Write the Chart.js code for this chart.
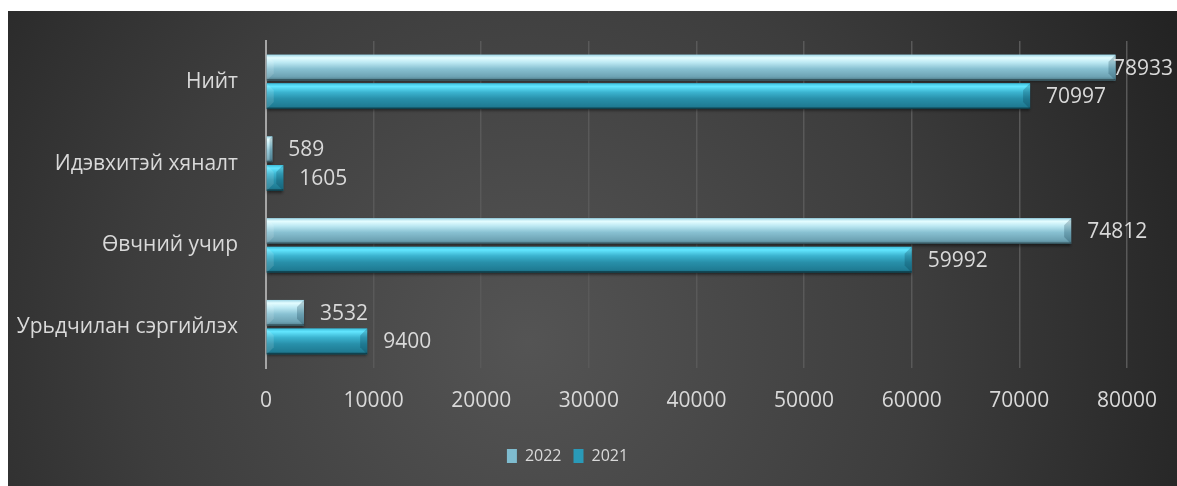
<!DOCTYPE html>
<html>
<head>
<meta charset="utf-8">
<script src="https://cdn.jsdelivr.net/npm/chart.js@4.4.1/dist/chart.umd.min.js"></script>
<style>
  html, body { margin: 0; padding: 0; background: #fff; }
  #wrap { position: absolute; left: 8px; top: 11px; width: 1169px; height: 475px; }
</style>
</head>
<body>
<div id="wrap"><canvas id="chart"></canvas></div>
<script>
// categories, top to bottom
const categories = ['Нийт', 'Идэвхитэй хяналт', 'Өвчний учир', 'Урьдчилан сэргийлэх'];
const values2022 = [78933, 589, 74812, 3532];
const values2021 = [70997, 1605, 59992, 9400];
const xTicks = [0, 10000, 20000, 30000, 40000, 50000, 60000, 70000, 80000];

const FONT = "'Open Sans', 'Noto Sans', sans-serif";
const TEXT = '#d9d9d9';
const FONT_SIZE = 21;

// bevel face gradients per series
const faces = [
  [[0, '#9fd6e6'], [0.12, '#e4fdff'], [0.3, '#bde9f3'], [0.55, '#88c1d2'], [0.85, '#6ea3b4'], [1, '#4f7d8b']],
  [[0, '#3fbfdc'], [0.12, '#62e6ff'], [0.35, '#3bb3cf'], [0.6, '#2890aa'], [0.9, '#1f7b93'], [1, '#165e70']],
];

const backgroundPlugin = {
  id: 'bg',
  beforeDraw(chart) {
    const { ctx, width, height } = chart;
    const g = ctx.createRadialGradient(520, 330, 0, 520, 330, 720);
    g.addColorStop(0, '#545454');
    g.addColorStop(0.55, '#3d3d3d');
    g.addColorStop(1, '#232323');
    ctx.save();
    ctx.fillStyle = g;
    ctx.fillRect(0, 0, width, height);
    ctx.restore();
  },
};

// paints the bevelled look over each bar using the bar element geometry
const bevelPlugin = {
  id: 'bevel',
  afterDatasetsDraw(chart) {
    const ctx = chart.ctx;
    chart.data.datasets.forEach((ds, di) => {
      const meta = chart.getDatasetMeta(di);
      meta.data.forEach((bar, i) => {
        const { x, y, base, height } = bar.getProps(['x', 'y', 'base', 'height'], true);
        const left = Math.min(base, x), right = Math.max(base, x);
        const top = y - height / 2, bottom = y + height / 2;
        const w = right - left;
        const b = Math.min(7, w / 2);

        ctx.save();
        ctx.shadowColor = 'rgba(0,0,0,0.55)';
        ctx.shadowOffsetY = 2;
        ctx.shadowBlur = 3;
        const g = ctx.createLinearGradient(0, top, 0, bottom);
        faces[di].forEach(s => g.addColorStop(s[0], s[1]));
        ctx.fillStyle = g;
        ctx.fillRect(left, top, w, height);
        ctx.restore();

        ctx.save();
        // right end facet
        ctx.beginPath();
        ctx.moveTo(right, top);
        ctx.lineTo(right - b, top + b);
        ctx.lineTo(right - b, bottom - b);
        ctx.lineTo(right, bottom);
        ctx.closePath();
        ctx.fillStyle = 'rgba(0,40,60,0.22)';
        ctx.fill();
        // left end facet
        ctx.beginPath();
        ctx.moveTo(left, top);
        ctx.lineTo(left + b, top + b);
        ctx.lineTo(left + b, bottom - b);
        ctx.lineTo(left, bottom);
        ctx.closePath();
        ctx.fillStyle = 'rgba(255,255,255,0.12)';
        ctx.fill();
        // bottom edge
        ctx.fillStyle = 'rgba(0,0,0,0.35)';
        ctx.fillRect(left, bottom - 1.5, w, 1.5);
        ctx.restore();

        // value label, kept inside the canvas
        ctx.save();
        ctx.font = FONT_SIZE + 'px ' + FONT;
        ctx.fillStyle = TEXT;
        ctx.textAlign = 'left';
        ctx.textBaseline = 'middle';
        const txt = String(ds.data[i]);
        const tw = ctx.measureText(txt).width;
        const lx = Math.min(right + 16, chart.width - tw - 4);
        ctx.fillText(txt, lx, y + 1);
        ctx.restore();
      });
    });
  },
};

new Chart(document.getElementById('chart'), {
  type: 'bar',
  data: {
    labels: categories,
    datasets: [
      { label: '2022', data: values2022, backgroundColor: '#7fbccf', borderWidth: 0 },
      { label: '2021', data: values2021, backgroundColor: '#2a9ab8', borderWidth: 0 },
    ],
  },
  options: {
    indexAxis: 'y',
    responsive: true,
    maintainAspectRatio: false,
    animation: false,
    categoryPercentage: 0.7,
    barPercentage: 0.9,
    layout: { padding: { top: 30, right: 50, bottom: 12, left: 0 } },
    plugins: {
      tooltip: { enabled: false },
      legend: {
        position: 'bottom',
        labels: {
          color: TEXT,
          font: { family: FONT, size: 16 },
          boxWidth: 10,
          boxHeight: 14,
          padding: 12,
        },
      },
    },
    scales: {
      x: {
        min: 0,
        max: 80000,
        afterBuildTicks(scale) { scale.ticks = xTicks.map(v => ({ value: v })); },
        afterFit(scale) { scale.height = 68; },
        grid: { color: '#595959', lineWidth: 1.5, drawTicks: false },
        border: { display: false },
        ticks: {
          color: TEXT,
          font: { family: FONT, size: FONT_SIZE },
          padding: 20,
          callback: v => String(v),
        },
      },
      y: {
        afterFit(scale) {
          scale.width = 258;
          // tick padding would otherwise push the plot area down
          scale.paddingTop = 0;
          scale.paddingBottom = 0;
        },
        grid: { display: false, drawTicks: false },
        border: { color: '#a6a6a6', width: 2 },
        ticks: {
          color: TEXT,
          font: { family: FONT, size: FONT_SIZE },
          padding: 28,
        },
      },
    },
  },
  plugins: [backgroundPlugin, bevelPlugin],
});
</script>
</body>
</html>
